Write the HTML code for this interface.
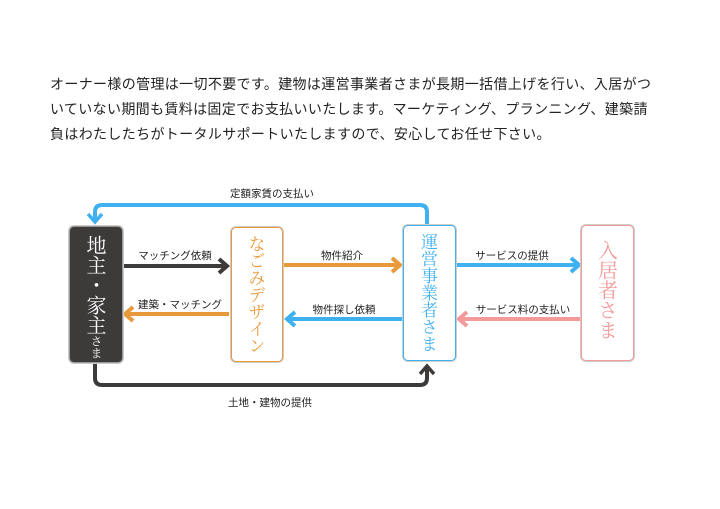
<!DOCTYPE html>
<html><head><meta charset="utf-8"><style>
body{margin:0;width:720px;height:509px;background:#fff;overflow:hidden;font-family:"Liberation Sans","Noto Sans CJK JP",sans-serif;}
.p{position:absolute;left:50px;top:72px;font-size:14px;line-height:25px;color:#222;letter-spacing:0.35px;white-space:nowrap;}
.box{position:absolute;border-radius:5px;box-sizing:border-box;writing-mode:vertical-rl;font-family:"Noto Serif CJK SC","Liberation Serif",serif;font-size:17px;line-height:1;display:flex;align-items:center;padding-top:8px;box-shadow:0 0 0 1px #ccc;white-space:nowrap;}
.lbl{position:absolute;font-size:10.5px;color:#222;white-space:nowrap;transform:translateX(-50%);}
</style></head><body>
<div class="p">オーナー様の管理は一切不要です。建物は運営事業者さまが長期一括借上げを行い、入居がつ<br>いていない期間も賃料は固定でお支払いいたします。マーケティング、プランニング、建築請<br>負はわたしたちがトータルサポートいたしますので、安心してお任せ下さい。</div>
<svg width="720" height="509" style="position:absolute;left:0;top:0" fill="none" stroke-width="4">
<path d="M427 225 V212 Q427 205 420 205 H102 Q95 205 95 212 V222" stroke="#3fb0f0"/>
<path d="M88 214 L95 222 L102 214" stroke="#3fb0f0" stroke-width="3.5"/>
<path d="M95 363 V378 Q95 385 102 385 H420 Q427 385 427 378 V367" stroke="#3d3a3a"/>
<path d="M420 374 L427 366 L434 374" stroke="#3d3a3a" stroke-width="3.5"/>
<path d="M124 266 H226 M219 259 L227 266 L219 273" stroke="#3d3a3a"/>
<path d="M229 314 H126 M133 307 L125 314 L133 321" stroke="#e8993a"/>
<path d="M284 265 H399 M392 258 L400 265 L392 272" stroke="#e8993a"/>
<path d="M403 319 H288 M295 312 L287 319 L295 326" stroke="#3fb0f0"/>
<path d="M456 265 H578 M571 258 L579 265 L571 272" stroke="#3fb0f0"/>
<path d="M580 319 H460 M467 312 L459 319 L467 326" stroke="#f59a9a"/>
</svg>
<div class="box" style="left:69px;top:226px;width:54px;height:137px;background:#3d3a3a;color:#fff;border:1px solid #999;font-size:20px;">地主・家主<span style="font-size:12px">さま</span></div>
<div class="box" style="left:231px;top:227px;width:52px;height:135px;background:#fff;color:#e8993a;border:1.5px solid #e8993a;padding-top:7px;">なごみデザイン</div>
<div class="box" style="left:403px;top:225px;width:53px;height:136px;background:#fff;color:#3fb0f0;border:1.5px solid #3fb0f0;padding-top:7px;">運営事業者さま</div>
<div class="box" style="left:581px;top:225px;width:53px;height:136px;background:#fff;color:#f59a9a;border:1.5px solid #f59a9a;padding-top:14px;font-size:20px;">入居者さま</div>
<div class="lbl" style="left:272px;top:186px">定額家賃の支払い</div>
<div class="lbl" style="left:175px;top:248px">マッチング依頼</div>
<div class="lbl" style="left:180px;top:297px">建築・マッチング</div>
<div class="lbl" style="left:342px;top:248px">物件紹介</div>
<div class="lbl" style="left:344px;top:302px">物件探し依頼</div>
<div class="lbl" style="left:512px;top:248px">サービスの提供</div>
<div class="lbl" style="left:523px;top:302px">サービス料の支払い</div>
<div class="lbl" style="left:270px;top:395px">土地・建物の提供</div>
</body></html>
